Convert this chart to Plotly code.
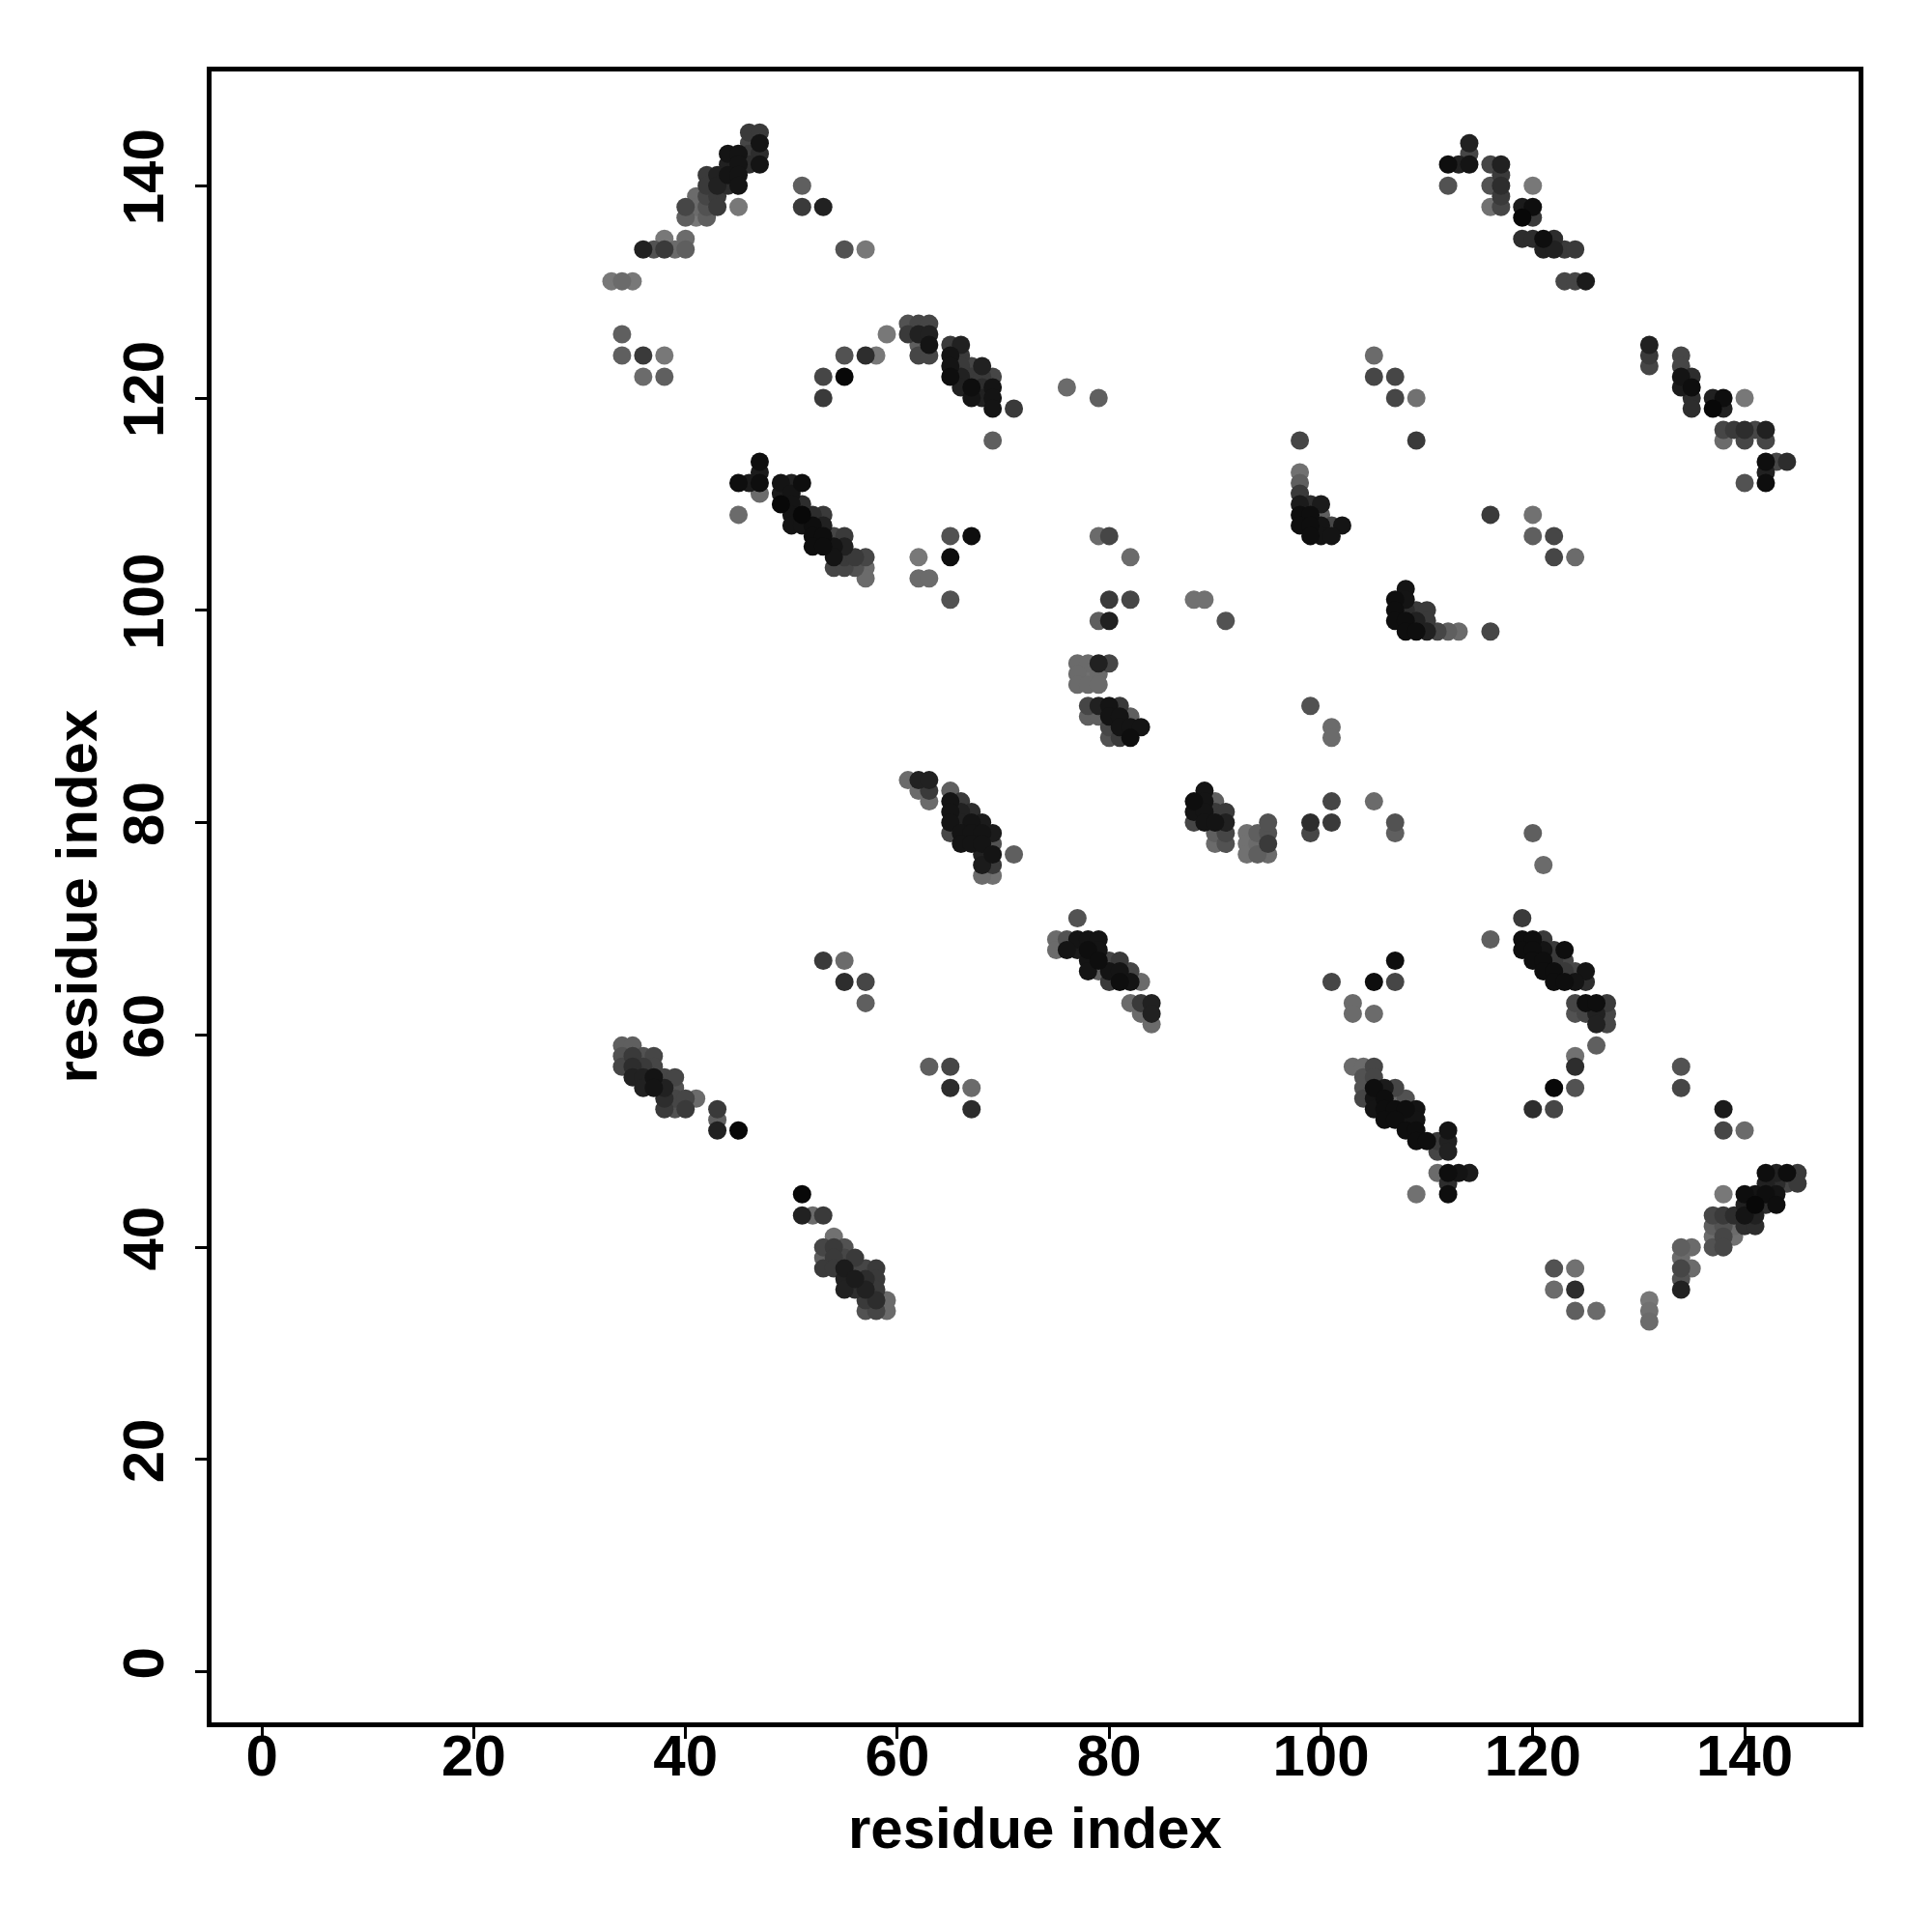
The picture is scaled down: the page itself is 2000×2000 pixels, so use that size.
import plotly.graph_objects as go

# contact clusters: (residue_i, residue_j, score)  score 0 = weak (light grey) .. 1 = strong (black)
cl_a = [(46,145,.6),(47,145,.6),(46,144,.5),(47,144,.9),(44,143,.9),(45,143,.9),(46,143,.6),(47,143,.7),
        (44,142,.8),(45,142,.9),(46,142,.7),(47,142,.9),(42,141,.6),(43,141,.8),(44,141,.9),(45,141,.9),
        (42,140,.6),(43,140,.8),(44,140,.7),(45,140,.9),(41,139,.2),(42,139,.5),(43,139,.6),
        (40,138,.5),(41,138,.2),(42,138,.4),(43,138,.6),(45,138,.1),(40,137,.3),(41,137,.1),(42,137,.3),
        (38,135,.1),(40,135,.2),(36,134,.8),(37,134,.4),(38,134,.6),(39,134,.2),(40,134,.3),
        (33,131,.1),(34,131,.2),(35,131,.1),(34,126,.3),(34,124,.3),(36,124,.6),(38,124,.1),
        (36,122,.2),(38,122,.3),(51,140,.3),(51,138,.6),(53,138,.8),(55,134,.4),(57,134,.1)]
cl_b = [(61,127,.4),(62,127,.5),(63,127,.5),(59,126,.1),(61,126,.6),(62,126,.8),(63,126,.8),
        (62,125,.3),(63,125,.9),(65,125,.6),(66,125,.8),(55,124,.4),(57,124,.7),(58,124,.1),(62,124,.5),
        (63,124,.5),(65,124,.9),(66,124,.6),(65,123,.9),(66,123,.6),(67,123,.5),(68,123,.8),
        (53,122,.5),(55,122,1.),(65,122,.95),(66,122,.8),(67,122,.6),(68,122,.6),(69,122,.5),
        (66,121,.8),(67,121,.95),(68,121,.7),(69,121,.9),(53,120,.6),(67,120,.9),(68,120,.8),(69,120,.9),
        (69,119,.9),(71,119,.6),(69,116,.3),(76,121,.2),(79,120,.3)]
cl_c = [(47,114,.95),(47,113,.85),(45,112,.95),(46,112,.85),(47,112,.95),(49,112,.9),(50,112,.8),(51,112,.95),
        (47,111,.2),(49,111,.85),(50,111,.9),(49,110,1.),(50,110,.9),(51,110,.7),(45,109,.2),(50,109,.9),
        (51,109,1.),(52,109,.7),(53,109,.6),(50,108,.9),(51,108,.9),(52,108,.95),(53,108,.8),
        (52,107,.95),(53,107,.95),(54,107,.5),(55,107,.6),(52,106,.95),(53,106,.95),(54,106,.9),(55,106,.8),
        (54,105,.9),(55,105,.6),(56,105,.6),(57,105,.5),(54,104,.5),(55,104,.5),(56,104,.4),(57,104,.2),
        (57,103,.2),(62,105,.1),(62,103,.2),(63,103,.2),(65,107,.4),(67,107,.95),(65,105,.95),(65,101,.4)]
cl_d = [(61,84,.2),(62,84,.8),(63,84,.8),(62,83,.2),(63,83,.6),(65,83,.3),(63,82,.2),(65,82,.9),(66,82,.6),
        (65,81,.9),(66,81,.8),(67,81,.7),(65,80,.9),(66,80,.8),(67,80,.9),(68,80,.85),
        (65,79,.5),(66,79,.9),(67,79,.9),(68,79,.9),(69,79,.85),(66,78,.9),(67,78,.9),(68,78,.9),(69,78,.4),
        (68,77,.8),(69,77,.9),(71,77,.3),(68,76,.85),(69,76,.6),(68,75,.2),(69,75,.15)]
cl_e = [(77,95,.2),(78,95,.2),(79,95,.8),(80,95,.5),(77,94,.2),(78,94,.15),(79,94,.2),
        (77,93,.2),(78,93,.2),(79,93,.2),(78,91,.5),(79,91,.8),(80,91,.9),(81,91,.6),
        (78,90,.3),(79,90,.3),(80,90,.9),(81,90,.9),(82,90,.3),(80,89,.5),(81,89,.9),(82,89,.9),(83,89,.9),
        (80,88,.4),(81,88,.6),(82,88,.95),(79,107,.2),(80,107,.5),(82,105,.2),(80,101,.6),(82,101,.5),
        (79,99,.3),(80,99,.8),(88,101,.15),(89,101,.15),(91,99,.4),(99,91,.4),(101,89,.2),(101,88,.2)]
cl_f = [(89,83,.9),(88,82,.95),(89,82,.9),(90,82,.3),(88,81,.9),(89,81,.9),(90,81,.6),(91,81,.6),
        (88,80,.5),(89,80,.9),(90,80,.9),(91,80,.8),(90,79,.3),(91,79,.5),(90,78,.2),(91,78,.4),
        (93,79,.15),(94,79,.3),(95,79,.4),(95,80,.4),(93,78,.15),(94,78,.2),(95,78,.6),
        (93,77,.15),(94,77,.3),(95,77,.2),(99,80,.7),(99,79,.5),(101,80,.6),(101,82,.5),(105,82,.2),
        (107,80,.4),(107,79,.3)]
cl_g = [(77,71,.4),(75,69,.2),(76,69,.4),(77,69,.9),(78,69,.9),(79,69,.9),(75,68,.2),(76,68,.9),(77,68,.85),
        (78,68,.95),(79,68,.9),(78,67,.9),(79,67,.95),(80,67,.5),(81,67,.6),(78,66,.9),(79,66,.3),(80,66,.9),
        (81,66,.9),(82,66,.5),(80,65,.6),(81,65,.95),(82,65,.9),(83,65,.2),(82,63,.2),(83,63,.6),(84,63,.8),
        (83,62,.2),(84,62,.8),(84,61,.2),(107,67,.95),(101,65,.5),(105,65,.95),(107,65,.5),
        (103,63,.2),(103,62,.2),(105,62,.2)]
cl_h = [(103,57,.2),(104,57,.2),(105,57,.5),(104,56,.4),(105,56,.5),(104,55,.4),(105,55,.95),(106,55,.85),
        (107,55,.5),(104,54,.5),(105,54,.9),(106,54,.95),(107,54,.2),(108,54,.4),(105,53,.9),(106,53,.95),
        (107,53,.95),(108,53,.95),(109,53,.9),(106,52,.95),(107,52,.95),(108,52,.9),(109,52,.9),
        (108,51,.95),(109,51,.95),(112,51,.9),(109,50,.95),(110,50,.95),(111,50,.6),(112,50,.8),
        (111,49,.5),(112,49,.8),(111,47,.2),(112,47,.95),(113,47,.9),(114,47,.85),(112,46,.7),
        (109,45,.15),(112,45,.95)]
cl_i = [(119,71,.6),(116,69,.3),(119,69,.95),(120,69,.95),(121,69,.6),(119,68,.95),(120,68,.95),(121,68,.9),
        (122,68,.6),(123,68,.95),(120,67,.95),(121,67,.95),(122,67,.6),(123,67,.5),(121,66,.95),(122,66,.95),
        (123,66,.6),(124,66,.5),(125,66,.9),(122,65,.95),(123,65,.95),(124,65,.9),(125,65,.7),
        (124,63,.5),(125,63,.95),(126,63,.95),(127,63,.6),(124,62,.4),(125,62,.5),(126,62,.8),(127,62,.5),
        (126,61,.8),(127,61,.5),(126,59,.3),(124,58,.15),(124,57,.7),(122,55,1.),(124,55,.4),
        (120,53,.7),(122,53,.5),(120,79,.3),(121,76,.2)]
cl_j = [(142,47,.95),(143,47,.8),(144,47,.95),(145,47,.6),(142,46,.8),(143,46,.7),(144,46,.5),(145,46,.6),
        (138,45,.1),(140,45,.95),(141,45,.9),(142,45,.95),(143,45,.9),(140,44,.8),(141,44,1.),(142,44,.7),
        (143,44,.95),(137,43,.5),(138,43,.6),(139,43,.7),(140,43,.9),(141,43,.8),(137,42,.3),(138,42,.4),
        (139,42,.2),(140,42,.7),(141,42,.7),(137,41,.2),(138,41,.5),(139,41,.15),(134,40,.3),(135,40,.2),
        (137,40,.4),(138,40,.5),(134,39,.2),(134,38,.5),(135,38,.2),(134,37,.4),(134,36,.8),
        (122,38,.4),(124,38,.15),(122,36,.2),(124,36,.7),(124,34,.3),(126,34,.2),
        (131,35,.1),(131,34,.15),(131,33,.2),(134,57,.4),(134,55,.5),(138,53,.85),(138,51,.5),(140,51,.2)]
cl_k = [(114,144,.8),(114,143,.5),(112,142,.95),(113,142,.8),(114,142,.9),(116,142,.5),(117,142,.8),
        (117,141,.6),(112,140,.4),(116,140,.4),(117,140,.7),(120,140,.1),(117,139,.6),
        (116,138,.15),(117,138,.5),(119,138,.85),(120,138,.95),(119,137,1.),(120,137,.6),
        (119,135,.7),(120,135,.7),(121,135,.95),(122,135,.7),(121,134,.8),(122,134,.8),(123,134,.6),
        (124,134,.6),(123,131,.5),(124,131,.5),(125,131,.85)]
cl_l = [(131,125,.8),(131,124,.6),(131,123,.5),(134,124,.5),(134,123,.5),(134,122,.9),(135,122,.7),
        (134,121,.85),(135,121,.95),(135,120,.7),(135,119,.7),(137,120,.8),(138,120,.95),(137,119,1.),
        (138,119,.8),(140,120,.1),(138,117,.5),(139,117,.6),(140,117,.7),(141,117,.5),(142,117,.8),
        (138,116,.2),(140,116,.5),(142,116,.5),(142,114,.95),(143,114,.5),(144,114,.7),(142,113,.8),
        (140,112,.4),(142,112,.95),(109,120,.15),(109,116,.6),(105,124,.2),(105,122,.5),(107,122,.5),
        (107,120,.5)]
cl_m = [(98,116,.5),(98,113,.15),(98,112,.3),(98,111,.6),(98,110,.85),(99,110,.7),(100,110,.85),
        (98,109,.95),(99,109,.95),(100,109,.3),(98,108,.95),(99,108,.95),(100,108,.9),(101,108,.5),
        (102,108,.9),(99,107,.95),(100,107,.9),(101,107,.9)]
cl_n = [(108,102,.9),(107,101,.95),(108,101,.9),(107,100,.95),(108,100,.7),(109,100,.6),(110,100,.6),
        (107,99,.95),(108,99,.95),(109,99,.8),(110,99,.6),(108,98,.95),(109,98,.95),(110,98,.8),
        (111,98,.5),(112,98,.3),(113,98,.2),(116,98,.5),(116,109,.6),(120,109,.15),(120,107,.3),
        (122,107,.5),(122,105,.5),(124,105,.2)]
cl_o = [(34,59,.3),(35,59,.3),(34,58,.4),(35,58,.6),(36,58,.4),(37,58,.5),(34,57,.5),(35,57,.7),(36,57,.6),
        (37,57,.5),(35,56,.8),(36,56,.8),(37,56,.9),(38,56,.5),(39,56,.5),(36,55,.8),(37,55,.9),(38,55,.8),
        (39,55,.4),(38,54,.7),(39,54,.5),(40,54,.5),(41,54,.2),(38,53,.6),(39,53,.4),(40,53,.6),
        (43,53,.6),(43,52,.3),(43,51,.8),(45,51,1.),(53,67,.6),(55,67,.2),(55,65,.7),(57,65,.5),(57,63,.3),
        (63,57,.3),(65,57,.5),(65,55,.7),(67,55,.2),(67,53,.7)]
cl_p = [(51,45,1.),(51,43,.8),(52,43,.2),(53,43,.6),(54,41,.15),(53,40,.5),(54,40,.6),(55,40,.4),
        (53,39,.3),(54,39,.6),(55,39,.5),(56,39,.6),(53,38,.6),(54,38,.6),(55,38,.85),(56,38,.5),(57,38,.5),
        (58,38,.6),(55,37,.8),(56,37,.85),(57,37,.7),(58,37,.6),(55,36,.8),(56,36,.7),(57,36,.8),(58,36,.6),
        (57,35,.6),(58,35,.7),(59,35,.2),(57,34,.4),(58,34,.5),(59,34,.2)]

tick_vals = [0, 20, 40, 60, 80, 100, 120, 140]
axis_title = "residue index"

pts = cl_a + cl_b + cl_c + cl_d + cl_e + cl_f + cl_g + cl_h + cl_i + cl_j + cl_k + cl_l + cl_m + cl_n + cl_o + cl_p
pts = sorted(pts, key=lambda p: p[2])
res_i = [p[0] for p in pts]
res_j = [p[1] for p in pts]
score = [p[2] for p in pts]

fig = go.Figure(go.Scatter(
    x=res_i, y=res_j, mode="markers",
    marker=dict(size=19, color=score, cmin=0, cmax=1,
                colorscale=[[0, "rgb(132,132,132)"], [1, "rgb(8,8,8)"]],
                line=dict(width=0), opacity=1),
    showlegend=False))

font = dict(family="Liberation Sans", size=60, color="black", weight="bold")
axcommon = dict(range=[-4.76, 150.76], tickvals=tick_vals, ticks="outside", ticklen=12, tickwidth=3,
                tickcolor="black", showline=True, linecolor="black", linewidth=5, mirror=True,
                showgrid=False, zeroline=False, tickfont=font)
fig.update_xaxes(**axcommon, ticklabelstandoff=-34)
fig.update_yaxes(**axcommon, tickangle=-90, ticklabelstandoff=9)

title_font = dict(family="Liberation Sans", size=60, color="black", weight="bold")
fig.update_layout(
    width=2000, height=2000, autosize=False,
    margin=dict(l=211, r=84, t=66, b=225),
    plot_bgcolor="white", paper_bgcolor="white",
    annotations=[
        dict(text=axis_title, x=0.5, y=0, xref="paper", yref="paper", xanchor="center", yanchor="middle",
             yshift=-109, showarrow=False, font=title_font),
        dict(text=axis_title, x=0, y=0.5, xref="paper", yref="paper", xanchor="center", yanchor="middle",
             xshift=-140, textangle=-90, showarrow=False, font=title_font),
    ])

fig.write_html("out.html")
